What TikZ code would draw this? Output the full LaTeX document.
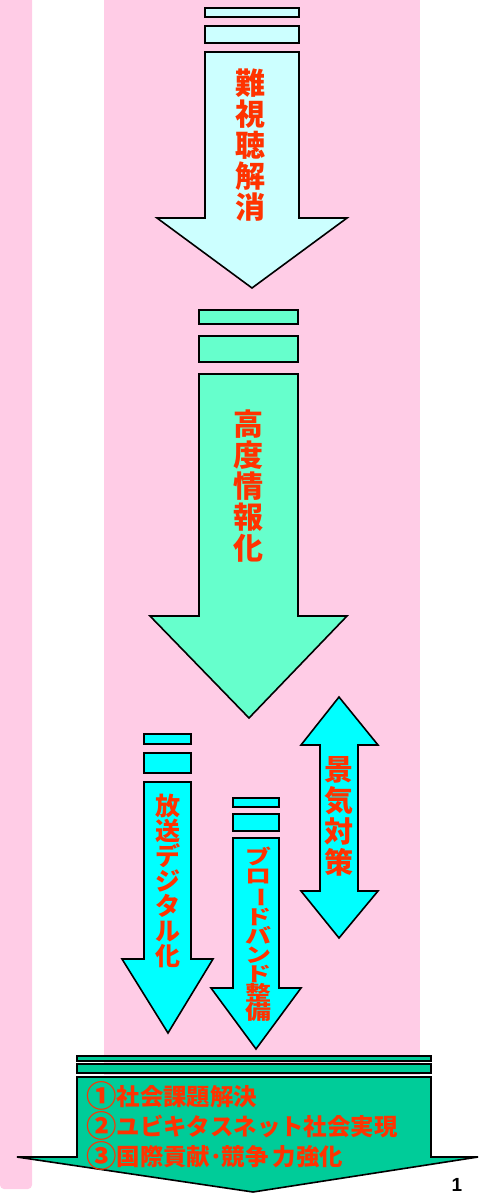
\documentclass[tikz,border=0pt]{standalone}
\usepackage{fontspec}
\usepackage{graphicx}
\newfontfamily\jp{Noto Sans CJK JP}
\newfontfamily\lsans{Liberation Sans}
\definecolor{pinkbg}{HTML}{FFCCE6}
\definecolor{lcyan}{HTML}{CCFFFF}
\definecolor{mint}{HTML}{66FFCC}
\definecolor{cyanx}{HTML}{00FFFF}
\definecolor{seag}{HTML}{00CC99}
\definecolor{redtxt}{HTML}{FF3300}
\tikzset{
  shapeline/.style={draw=black, line width=1.6pt, line join=miter},
  vtext/.style={text=redtxt, align=center, inner sep=0pt},
}
\newcommand{\vbar}{\rotatebox[origin=c]{-90}{ー}}
\newcommand{\circd}[1]{\raisebox{-0.1em}{\scalebox{1.3}{#1}}}
\begin{document}
\begin{tikzpicture}[x=1pt,y=-1pt]
\useasboundingbox (0,0) rectangle (479,1194);
% backgrounds
\fill[pinkbg] (0,0) -- (32,0) -- (32,1184) [rounded corners=4pt] -- (32,1189) -- (0,1189) [sharp corners] -- cycle;
\fill[pinkbg] (104,0) rectangle (420,1075);
% arrow 1
\draw[shapeline, fill=lcyan] (205,8) rectangle (299,17);
\draw[shapeline, fill=lcyan] (205,26) rectangle (299,43);
\draw[shapeline, fill=lcyan] (205,52) -- (299,52) -- (299,218) -- (347,218) -- (252,288) -- (157,218) -- (205,218) -- cycle;
\node[vtext, font=\jp\bfseries\fontsize{30}{31}\selectfont] (t1) at (250,145.5) {難\\視\\聴\\解\\消};
% arrow 2
\draw[shapeline, fill=mint] (199,310) rectangle (298,324);
\draw[shapeline, fill=mint] (199,336) rectangle (298,362);
\draw[shapeline, fill=mint] (199,374) -- (298,374) -- (298,616) -- (347,616) -- (249,718) -- (150,616) -- (199,616) -- cycle;
\node[vtext, font=\jp\bfseries\fontsize{30}{31}\selectfont] (t2) at (248,486.5) {高\\度\\情\\報\\化};
% arrow 3 double
\draw[shapeline, fill=cyanx] (339,697) -- (378,745) -- (358,745) -- (358,891) -- (378,891) -- (339,938) -- (301,891) -- (320,891) -- (320,745) -- (301,745) -- cycle;
\node[vtext, font=\jp\bfseries\fontsize{29}{31}\selectfont] (t3) at (339,816.5) {景\\気\\対\\策};
% arrow 4
\draw[shapeline, fill=cyanx] (144,734) rectangle (191,744);
\draw[shapeline, fill=cyanx] (144,753) rectangle (191,773);
\draw[shapeline, fill=cyanx] (144,782) -- (191,782) -- (191,959) -- (213,959) -- (168,1033) -- (122,959) -- (144,959) -- cycle;
\node[vtext, font=\jp\bfseries\fontsize{25}{25}\selectfont] (t4) at (168,880.5) {放\\送\\デ\\ジ\\タ\\ル\\化};
% arrow 5
\draw[shapeline, fill=cyanx] (233,798) rectangle (279,807);
\draw[shapeline, fill=cyanx] (233,814) rectangle (279,831);
\draw[shapeline, fill=cyanx] (233,838) -- (279,838) -- (279,988) -- (301,988) -- (256,1049) -- (211,988) -- (233,988) -- cycle;
\node[vtext, font=\jp\bfseries\fontsize{20}{19}\selectfont, xscale=1.3] (t5) at (258,934) {ブ\\ロ\\\vbar\\ド\\バ\\ン\\ド\\整\\備};
% bottom arrow
\draw[shapeline, fill=seag] (77,1056) rectangle (431,1061);
\draw[shapeline, fill=seag] (77,1064) rectangle (431,1073);
\draw[shapeline, fill=seag] (77,1077) -- (431,1077) -- (431,1157) -- (478,1157) -- (253,1192) -- (17,1157) -- (77,1157) -- cycle;
\node[text=redtxt, align=left, inner sep=0pt, anchor=west, font=\jp\bfseries\fontsize{23.4}{27.5}\selectfont] (t6) at (86,1126) {\circd{①}社会課題解決\\\circd{②}ユビキタスネット社会実現\\\circd{③}国際貢献･競争\,力強化};
% page number
\node[font=\lsans\bfseries\fontsize{19}{19}\selectfont, inner sep=0pt] (pg) at (457,1185) {1};
\end{tikzpicture}
\end{document}
